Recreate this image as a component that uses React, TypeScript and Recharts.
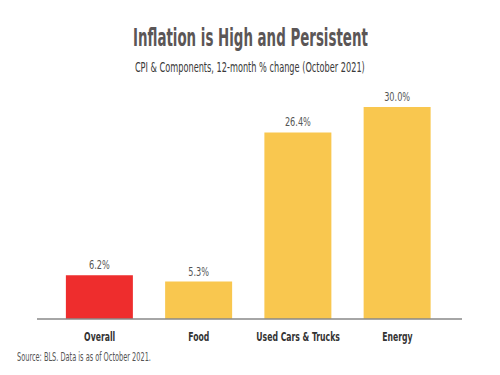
import { BarChart, Bar, XAxis, YAxis, Cell, LabelList } from "recharts";

const categories = ["Overall", "Food", "Used Cars & Trucks", "Energy"];
const changes = [6.2, 5.3, 26.4, 30.0];
const barColors = ["#EE2D2D", "#F9C74F", "#F9C74F", "#F9C74F"];

const data = categories.map((name, i) => ({ name, value: changes[i] }));

const font = '"DejaVu Sans Condensed", "DejaVu Sans", sans-serif';

// the original uses a very narrow font, so text is squeezed horizontally
function CategoryTick(props: any) {
  const { x, y, payload } = props;
  return (
    <g transform={`translate(${x},${y})`}>
      <text
        transform="scale(0.66,1)"
        textAnchor="middle"
        dy={14}
        fill="#333"
        fontSize={13}
        fontWeight={700}
        fontFamily={font}
      >
        {payload.value}
      </text>
    </g>
  );
}

function ValueLabel(props: any) {
  const { x, y, width, value } = props;
  return (
    <g transform={`translate(${x + width / 2},${y - 6})`}>
      <text
        transform="scale(0.7,1)"
        textAnchor="middle"
        fill="#555"
        fontSize={13}
        fontFamily={font}
      >
        {Number(value).toFixed(1) + "%"}
      </text>
    </g>
  );
}

function Squeezed({ top, left, size, weight, color, scale, children, center }: any) {
  return (
    <div
      style={{
        position: "absolute",
        top,
        left: center ? 0 : left,
        width: center ? 500 : undefined,
        textAlign: center ? "center" : "left",
        whiteSpace: "nowrap",
      }}
    >
      <span
        style={{
          display: "inline-block",
          fontSize: size,
          fontWeight: weight,
          color,
          transform: `scaleX(${scale})`,
          transformOrigin: center ? "center" : "left",
        }}
      >
        {children}
      </span>
    </div>
  );
}

export default function App() {
  return (
    <div
      style={{
        position: "absolute",
        left: 0,
        top: 0,
        width: 500,
        height: 375,
        background: "#fff",
        fontFamily: font,
      }}
    >
      <Squeezed center top={24} size={24} weight={700} color="#5B5656" scale={0.62}>
        Inflation is High and Persistent
      </Squeezed>
      <Squeezed center top={57} size={14} weight={400} color="#3a3a3a" scale={0.65}>
        CPI &amp; Components, 12-month % change (October 2021)
      </Squeezed>
      <BarChart
        width={500}
        height={375}
        data={data}
        margin={{ top: 107, right: 38, bottom: 26, left: 37 }}
        barCategoryGap="16%"
      >
        <XAxis
          dataKey="name"
          axisLine={{ stroke: "#888", strokeWidth: 1.5 }}
          tickLine={false}
          padding={{ left: 13, right: 15 }}
          tick={<CategoryTick />}
          height={30}
        />
        <YAxis hide domain={[0, 30]} />
        <Bar dataKey="value" isAnimationActive={false}>
          {data.map((d, i) => (
            <Cell key={d.name} fill={barColors[i]} />
          ))}
          <LabelList dataKey="value" content={<ValueLabel />} />
        </Bar>
      </BarChart>
      <Squeezed top={346} left={17} size={12} weight={400} color="#555" scale={0.61}>
        Source: BLS. Data is as of October 2021.
      </Squeezed>
    </div>
  );
}
